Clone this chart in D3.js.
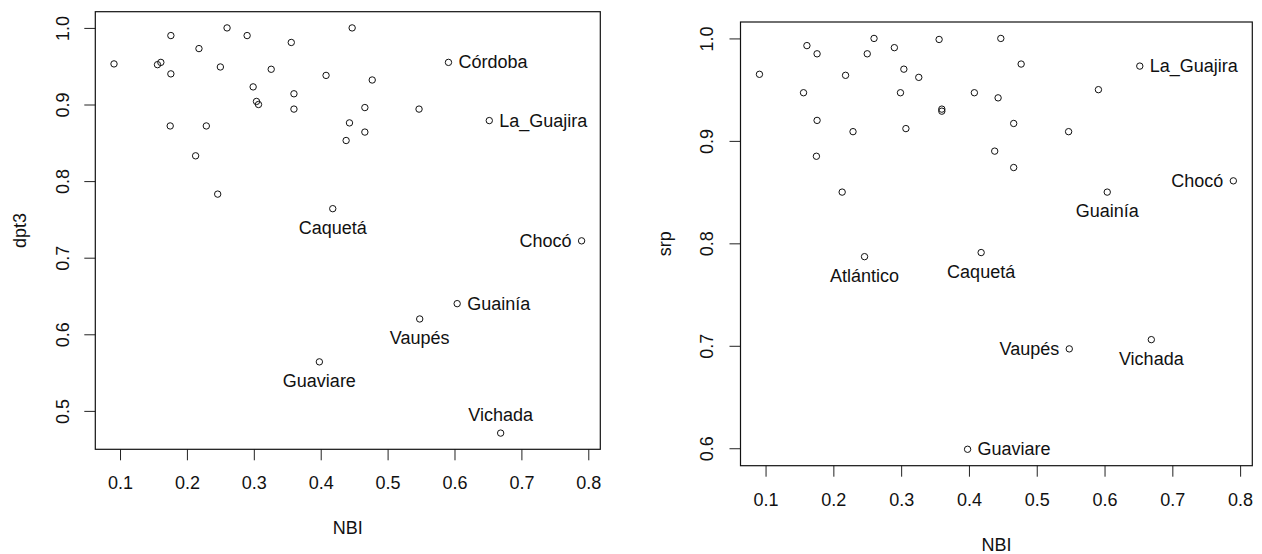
<!DOCTYPE html>
<html>
<head>
<meta charset="utf-8">
<script src="https://cdn.jsdelivr.net/npm/d3@7"></script>
<style>
  html, body { margin: 0; padding: 0; background: #fff; }
  svg { display: block; }
  text { font-family: "Liberation Sans", Arial, sans-serif; fill: #111; }
</style>
</head>
<body>
<svg id="chart" width="1262" height="554"></svg>
<script>
// ---- data ----
const dept = ["", "", "", "", "", "", "", "", "", "Atlántico",
  "", "", "", "", "", "", "", "", "", "",
  "Guaviare", "", "Caquetá", "", "", "", "", "", "", "",
  "Vaupés", "Córdoba", "Guainía", "La_Guajira", "Vichada", "Chocó"];
const nbi = [0.091, 0.156, 0.161, 0.176, 0.176, 0.175, 0.213, 0.218, 0.229, 0.246,
  0.250, 0.260, 0.290, 0.299, 0.304, 0.307, 0.326, 0.356, 0.360, 0.360,
  0.398, 0.408, 0.418, 0.438, 0.443, 0.447, 0.466, 0.466, 0.477, 0.547,
  0.548, 0.591, 0.604, 0.652, 0.669, 0.790];
const dpt3 = [0.953, 0.952, 0.955, 0.990, 0.940, 0.872, 0.833, 0.973, 0.872, 0.783,
  0.949, 1.000, 0.990, 0.923, 0.904, 0.900, 0.946, 0.981, 0.914, 0.894,
  0.564, 0.938, 0.764, 0.853, 0.876, 1.000, 0.896, 0.864, 0.932, 0.894,
  0.620, 0.955, 0.640, 0.879, 0.471, 0.722];
const srp = [0.965, 0.947, 0.993, 0.985, 0.920, 0.885, 0.850, 0.964, 0.909, 0.787,
  0.985, 1.000, 0.991, 0.947, 0.970, 0.912, 0.962, 0.999, 0.931, 0.929,
  0.599, 0.947, 0.791, 0.890, 0.942, 1.000, 0.917, 0.874, 0.975, 0.909,
  0.697, 0.950, 0.850, 0.973, 0.706, 0.861];
const xTicks = [0.1, 0.2, 0.3, 0.4, 0.5, 0.6, 0.7, 0.8];
const dpt3Ticks = [0.5, 0.6, 0.7, 0.8, 0.9, 1.0];
const srpTicks = [0.6, 0.7, 0.8, 0.9, 1.0];
const dpt3Labeled = ["Córdoba", "La_Guajira", "Caquetá", "Chocó", "Guainía", "Vaupés", "Guaviare", "Vichada"];
const srpLabeled = ["La_Guajira", "Chocó", "Guainía", "Atlántico", "Caquetá", "Vaupés", "Vichada", "Guaviare"];

// ---- layout ----
const svg = d3.select("#chart");
const FS = 18;
const fmt = d3.format(".1f");

function padExt(arr) {
  const [a, b] = d3.extent(arr);
  const p = (b - a) * 0.04;
  return [a - p, b + p];
}

function panel(cfg) {
  const { x0, x1, y0, y1, yVals, yTicks, yName, labeled, placement } = cfg;
  const x = d3.scaleLinear().domain(padExt(nbi)).range([x0, x1]);
  const y = d3.scaleLinear().domain(padExt(yVals)).range([y1, y0]);
  const g = svg.append("g");

  // x axis
  const ax = g.append("g").attr("transform", `translate(0,${y1})`)
    .call(d3.axisBottom(x).tickValues(xTicks).tickFormat(fmt).tickSize(11).tickPadding(8));
  ax.select(".domain").remove();
  ax.selectAll("line").attr("stroke", "#222");
  ax.selectAll("text").attr("font-size", FS).attr("dy", null).attr("y", 0)
    .attr("transform", `translate(0,${cfg.xLabY - y1})`).attr("dominant-baseline", "central")
    .style("font-family", "Liberation Sans, Arial, sans-serif").attr("fill", "#111");

  // y axis
  const ay = g.append("g").attr("transform", `translate(${x0},0)`)
    .call(d3.axisLeft(y).tickValues(yTicks).tickFormat(fmt).tickSize(11));
  ay.select(".domain").remove();
  ay.selectAll("line").attr("stroke", "#222");
  ay.selectAll(".tick text").attr("font-size", FS).attr("x", null).attr("dy", null)
    .attr("text-anchor", "middle").attr("dominant-baseline", "central")
    .attr("transform", `translate(${cfg.yLabX - x0},0) rotate(-90)`)
    .style("font-family", "Liberation Sans, Arial, sans-serif").attr("fill", "#111");

  // box
  g.append("rect").attr("x", x0).attr("y", y0).attr("width", x1 - x0).attr("height", y1 - y0)
    .attr("fill", "none").attr("stroke", "#111").attr("stroke-width", 1.2);

  // titles
  g.append("text").attr("x", (x0 + x1) / 2).attr("y", cfg.xTitleY).attr("text-anchor", "middle")
    .attr("dominant-baseline", "central").attr("font-size", FS).text("NBI");
  g.append("text").attr("transform", `translate(${cfg.yTitleX},${(y0 + y1) / 2}) rotate(-90)`)
    .attr("text-anchor", "middle").attr("dominant-baseline", "central").attr("font-size", FS).text(yName);

  // points
  const idx = d3.range(nbi.length);
  g.append("g").selectAll("circle").data(idx).join("circle")
    .attr("cx", i => x(nbi[i])).attr("cy", i => y(yVals[i])).attr("r", 3.2)
    .attr("fill", "none").attr("stroke", "#111").attr("stroke-width", 1);

  // labels
  const lab = idx.filter(i => labeled.includes(dept[i]));
  g.append("g").selectAll("text").data(lab).join("text")
    .attr("font-size", FS).attr("dominant-baseline", "central")
    .attr("x", i => {
      const p = placement[dept[i]];
      return x(nbi[i]) + (p === "right" ? 10 : p === "left" ? -10 : 0);
    })
    .attr("y", i => {
      const p = placement[dept[i]];
      return y(yVals[i]) + (p === "below" ? 19 : p === "above" ? -18 : 0);
    })
    .attr("text-anchor", i => {
      const p = placement[dept[i]];
      return p === "right" ? "start" : p === "left" ? "end" : "middle";
    })
    .text(i => dept[i]);
}

panel({
  x0: 95.3, x1: 600.3, y0: 11.7, y1: 449.3,
  yVals: dpt3, yTicks: dpt3Ticks, yName: "dpt3", labeled: dpt3Labeled,
  xLabY: 483, yLabX: 62.7, xTitleY: 528, yTitleX: 20,
  placement: { "Córdoba": "right", "La_Guajira": "right", "Caquetá": "below", "Chocó": "left",
    "Guainía": "right", "Vaupés": "below", "Guaviare": "below", "Vichada": "above" }
});

panel({
  x0: 740.5, x1: 1252.3, y0: 22, y1: 465.7,
  yVals: srp, yTicks: srpTicks, yName: "srp", labeled: srpLabeled,
  xLabY: 499.8, yLabX: 706.7, xTitleY: 545, yTitleX: 665,
  placement: { "La_Guajira": "right", "Chocó": "left", "Guainía": "below", "Atlántico": "below",
    "Caquetá": "below", "Vaupés": "left", "Vichada": "below", "Guaviare": "right" }
});
</script>
</body>
</html>
